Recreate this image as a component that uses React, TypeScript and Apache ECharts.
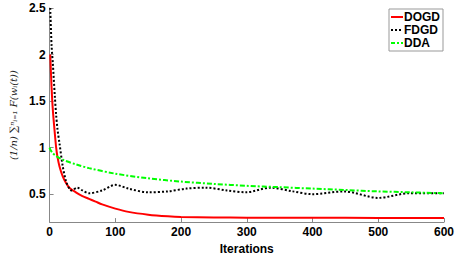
import React, { useEffect, useRef } from "react";
import * as echarts from "echarts";

const dogdIter = [1, 3, 5, 8, 10, 12, 15, 20, 25, 30, 40, 50, 60, 70, 80, 100, 120, 150, 180, 200, 250, 300, 400, 500, 600];
const dogdVals = [2.0, 1.65, 1.4, 1.15, 1.0, 0.9, 0.8, 0.69, 0.62, 0.57, 0.52, 0.48, 0.45, 0.42, 0.39, 0.345, 0.31, 0.28, 0.262, 0.255, 0.25, 0.248, 0.246, 0.245, 0.244];

const fdgdIter = [1, 3, 5, 8, 10, 12, 15, 20, 25, 30, 33, 42, 50, 60, 80, 100, 120, 150, 180, 208, 237, 270, 299, 336, 370, 400, 448, 500, 547, 600];
const fdgdVals = [2.5, 2.1, 1.9, 1.55, 1.35, 1.2, 1.05, 0.8, 0.64, 0.56, 0.54, 0.57, 0.54, 0.51, 0.54, 0.6, 0.56, 0.52, 0.53, 0.56, 0.57, 0.54, 0.52, 0.57, 0.53, 0.5, 0.53, 0.46, 0.51, 0.51];

const ddaIter = [0, 1, 5, 10, 20, 40, 60, 100, 150, 200, 250, 300, 350, 400, 450, 500, 550, 600];
const ddaVals = [1.0, 0.98, 0.94, 0.91, 0.87, 0.82, 0.78, 0.72, 0.67, 0.635, 0.61, 0.59, 0.575, 0.56, 0.545, 0.53, 0.52, 0.51];

const yTicks = [0.5, 1, 1.5, 2, 2.5];
const seriesNames = ["DOGD", "FDGD", "DDA"];

const zip = (xs: number[], ys: number[]) => xs.map((x, i) => [x, ys[i]]);

export default function App() {
  const ref = useRef<HTMLDivElement>(null);
  useEffect(() => {
    const chart = echarts.init(ref.current!, undefined, { renderer: "svg" });
    const font = "'Liberation Sans', Arial, Helvetica, sans-serif";
    const solidIcon = "path://M0,0 L12,0 L12,2 L0,2 Z";
    const dotIcon = "path://M0,0 L2,0 L2,2 L0,2 Z M4,0 L6,0 L6,2 L4,2 Z M8,0 L10,0 L10,2 L8,2 Z M12,0 L12,0 L12,2 L12,2 Z";
    const dashDotIcon = "path://M0,0 L4,0 L4,2 L0,2 Z M6,0 L8,0 L8,2 L6,2 Z M10,0 L12,0 L12,2 L10,2 Z";
    const icons = [solidIcon, dotIcon, dashDotIcon];
    const labelStyle = { fontFamily: font, fontWeight: 700, fontSize: 12, color: "#000" };
    chart.setOption({
      animation: false,
      backgroundColor: "#ffffff",
      grid: { left: 39, right: 11, top: 8, bottom: 26.6, containLabel: false },
      legend: {
        orient: "vertical",
        left: 389,
        top: 9,
        padding: [2, 3, 2, 2],
        itemGap: 1,
        itemWidth: 12,
        itemHeight: 2,
        borderColor: "#999999",
        borderWidth: 1,
        backgroundColor: "#ffffff",
        textStyle: { ...labelStyle, padding: [0, 0, 0, -4] },
        data: seriesNames.map((n, i) => ({ name: n, icon: icons[i] })),
      },
      xAxis: {
        type: "value",
        min: 0,
        max: 600,
        interval: 100,
        name: "Iterations",
        nameLocation: "middle",
        nameGap: 14,
        nameTextStyle: labelStyle,
        axisLine: { lineStyle: { color: "#888888", width: 1 } },
        axisTick: { inside: true, length: 4, lineStyle: { color: "#888888" } },
        axisLabel: { margin: 4, ...labelStyle },
        splitLine: { show: false },
      },
      yAxis: {
        type: "value",
        min: 0.2,
        max: 2.5,
        name: "(1/n) \u2211\u207F\u1D62\u208C\u2081 F(w\u1D62(t))",
        nameLocation: "middle",
        nameRotate: 90,
        nameGap: 24,
        nameTextStyle: { fontFamily: "'DejaVu Serif', serif", fontStyle: "italic", fontSize: 10, color: "#222" },
        axisLine: { show: true, lineStyle: { color: "#888888", width: 1 } },
        axisTick: { show: true, inside: true, length: 4, customValues: yTicks, lineStyle: { color: "#888888" } },
        axisLabel: { margin: 4, customValues: yTicks, ...labelStyle },
        splitLine: { show: false },
      },
      series: [
        {
          name: "DOGD",
          type: "line",
          symbol: "none",
          smooth: 0.3,
          data: zip(dogdIter, dogdVals),
          lineStyle: { color: "#ff0000", width: 2 },
          itemStyle: { color: "#ff0000" },
        },
        {
          name: "FDGD",
          type: "line",
          symbol: "none",
          smooth: 0.3,
          data: zip(fdgdIter, fdgdVals),
          lineStyle: { color: "#000000", width: 2, type: [2, 2] },
          itemStyle: { color: "#000000" },
        },
        {
          name: "DDA",
          type: "line",
          symbol: "none",
          smooth: 0.3,
          data: zip(ddaIter, ddaVals),
          lineStyle: { color: "#00ff00", width: 2, type: [5, 2, 2, 2] },
          itemStyle: { color: "#00ff00" },
        },
      ],
    });
    return () => chart.dispose();
  }, []);
  return (
    <div
      ref={ref}
      style={{ position: "absolute", left: 0, top: 0, width: 457, height: 260, background: "#fff" }}
    />
  );
}
